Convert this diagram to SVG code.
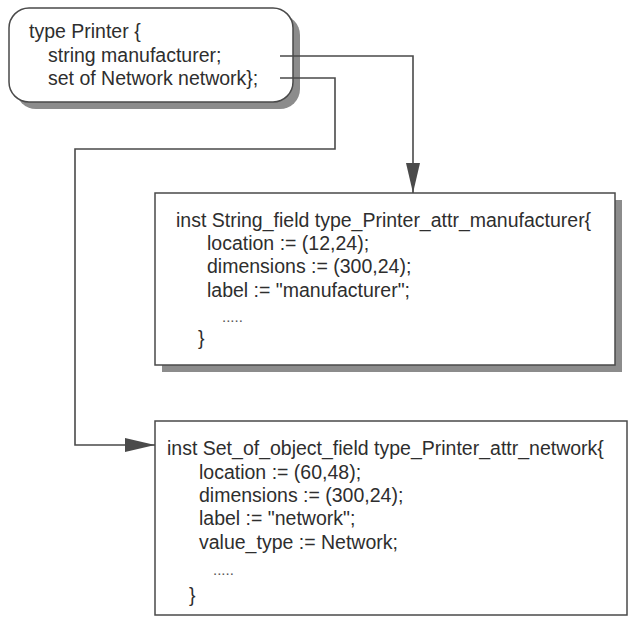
<svg xmlns="http://www.w3.org/2000/svg" width="629" height="617" viewBox="0 0 629 617">
  <style>
    .box { fill: #ffffff; stroke: #4a4a4a; stroke-width: 1.5; }
    .shadow { fill: #8c8c8c; }
    .code { font-family: "Liberation Sans", Arial, sans-serif; font-size: 19.5px; fill: #2e2e2e; }
    .dots { font-family: "Liberation Sans", Arial, sans-serif; font-size: 15px; fill: #555; }
    .wire { fill: none; stroke: #4a4a4a; stroke-width: 1.6; }
  </style>
  <defs>
    <marker id="arrow" viewBox="0 0 30 14" refX="30" refY="7" markerWidth="30" markerHeight="14" markerUnits="userSpaceOnUse" orient="auto">
      <path d="M0,0 L30,7 L0,14 Z" fill="#4a4a4a"/>
    </marker>
  </defs>

  <rect width="629" height="617" fill="#ffffff"/>

  <!-- type declaration -->
  <g id="printer-type">
    <rect class="shadow" x="16" y="15" width="284" height="94" rx="20" ry="20"/>
    <rect class="box" x="9" y="8" width="284" height="94" rx="20" ry="20"/>
    <text class="code" x="29" y="38">type Printer {</text>
    <text class="code" x="48" y="62">string manufacturer;</text>
    <text class="code" x="48" y="85">set of Network network};</text>
  </g>

  <!-- manufacturer field instance -->
  <g id="manufacturer-field">
    <rect class="shadow" x="162" y="200" width="460" height="172"/>
    <rect class="box" x="155" y="193" width="460" height="172"/>
    <text class="code" x="176" y="227">inst String_field type_Printer_attr_manufacturer{</text>
    <text class="code" x="207" y="250">location := (12,24);</text>
    <text class="code" x="207" y="273">dimensions := (300,24);</text>
    <text class="code" x="207" y="297">label := "manufacturer";</text>
    <text class="dots" x="222" y="322">.....</text>
    <text class="code" x="198" y="345">}</text>
  </g>

  <!-- network field instance -->
  <g id="network-field">
    <rect class="box" x="155" y="421" width="472" height="194"/>
    <text class="code" x="167" y="455">inst Set_of_object_field type_Printer_attr_network{</text>
    <text class="code" x="199" y="479">location := (60,48);</text>
    <text class="code" x="199" y="502">dimensions := (300,24);</text>
    <text class="code" x="199" y="525">label := "network";</text>
    <text class="code" x="199" y="549">value_type := Network;</text>
    <text class="dots" x="213" y="575">.....</text>
    <text class="code" x="189" y="602">}</text>
  </g>

  <!-- connectors -->
  <g id="connectors">
    <path class="wire" d="M280,56 H413 V193" marker-end="url(#arrow)"/>
    <path class="wire" d="M280,78 H335 V149 H75 V445 H155" marker-end="url(#arrow)"/>
  </g>
</svg>
